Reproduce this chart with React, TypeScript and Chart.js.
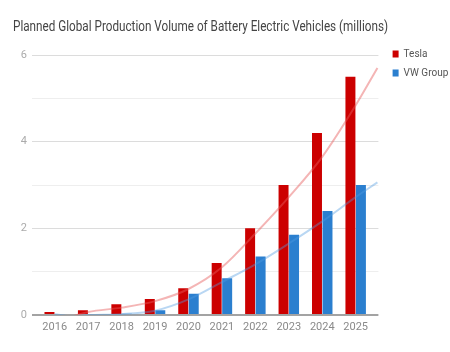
import React, { useEffect, useRef } from 'react';
import { Chart, registerables } from 'chart.js';

Chart.register(...registerables);

const FONT = "'Roboto', sans-serif";

const titleText = 'Planned Global Production Volume of Battery Electric Vehicles (millions)';
const years = ['2016', '2017', '2018', '2019', '2020', '2021', '2022', '2023', '2024', '2025'];
const tesla = [0.07, 0.11, 0.25, 0.37, 0.62, 1.2, 2.0, 3.0, 4.2, 5.5];
const vwGroup = [0, 0, 0.03, 0.11, 0.49, 0.85, 1.35, 1.85, 2.4, 3.0];

// trend lines at category positions (index) and at the right edge
const trendX = [0, 0.5, 1, 2, 3, 4, 5, 6, 7, 8, 9, 9.65];
const teslaTrend = [-0.12, -0.04, 0.07, 0.17, 0.32, 0.6, 1.1, 1.88, 2.72, 3.65, 4.84, 5.7];
const vwTrend = [0.02, -0.03, 0.0, 0.02, 0.1, 0.36, 0.76, 1.17, 1.65, 2.16, 2.72, 3.06];

const yMin = 0;
const yMax = 6;
const yStep = 1;

const RED = '#cc0000';
const BLUE = '#2b7fcf';
const RED_TREND = 'rgba(230, 90, 90, 0.45)';
const BLUE_TREND = 'rgba(80, 155, 225, 0.4)';

const gridColor = (ctx: any) => {
  const v = ctx.tick ? ctx.tick.value : 1;
  if (v === 0) return '#a3a3a3';
  return v % 2 === 0 ? '#dcdcdc' : '#eeeeee';
};
const gridWidth = (ctx: any) => (ctx.tick && ctx.tick.value === 0 ? 2 : 1);

// draws the title condensed into the space the title block reserves
const condensedTitle = {
  id: 'condensedTitle',
  afterDraw(chart: any) {
    const tb = chart.titleBlock;
    if (!tb) return;
    const ctx = chart.ctx;
    const opts = tb.options;
    const size = 14;
    const lh = size * 1.2;
    ctx.save();
    ctx.font = `normal ${size}px ${FONT}`;
    ctx.fillStyle = '#444444';
    ctx.textAlign = 'left';
    ctx.textBaseline = 'middle';
    const y = tb.top + (opts.padding.top ?? 0) + lh / 2;
    ctx.fillText(titleText, tb.left, y, 375);
    ctx.restore();
  },
};

const trendDataset = (label: string, values: number[], color: string) =>
  ({
    type: 'line',
    label,
    parsing: false,
    data: trendX.map((x, i) => ({ x, y: values[i] })),
    xAxisID: 'x',
    yAxisID: 'y',
    borderColor: color,
    borderWidth: 2,
    pointRadius: 0,
    cubicInterpolationMode: 'monotone',
    clip: { left: 8, right: 8, top: 0, bottom: 0 },
    order: 0,
  } as any);

export default function App() {
  const ref = useRef<HTMLCanvasElement | null>(null);

  useEffect(() => {
    if (!ref.current) return;
    const chart = new Chart(ref.current, {
      type: 'bar',
      data: {
        labels: years,
        datasets: [
          {
            label: 'Tesla',
            data: tesla,
            backgroundColor: RED,
            borderWidth: 0,
            categoryPercentage: 0.628,
            barPercentage: 0.95,
            xAxisID: 'x',
            order: 1,
          },
          {
            label: 'VW Group',
            data: vwGroup,
            backgroundColor: BLUE,
            borderWidth: 0,
            categoryPercentage: 0.628,
            barPercentage: 0.95,
            xAxisID: 'x',
            order: 1,
          },
          trendDataset('Tesla trend', teslaTrend, RED_TREND),
          trendDataset('VW trend', vwTrend, BLUE_TREND),
        ],
      },
      options: {
        responsive: false,
        animation: false,
        devicePixelRatio: 1,
        events: [],
        layout: { padding: { left: 13, right: 0, top: 0, bottom: 11.8 } },
        plugins: {
          tooltip: { enabled: false },
          title: {
            display: true,
            text: ' ',
            align: 'start',
            color: '#444444',
            font: { family: FONT, size: 14, weight: 'normal', lineHeight: 1.2 },
            padding: { top: 18.6, bottom: 19.6 },
          },
          legend: {
            display: true,
            position: 'right',
            align: 'start',
            fullSize: true,
            maxWidth: 66.4,
            title: {
              display: true,
              text: '',
              font: { size: 10, lineHeight: 1 },
              padding: { top: 30, bottom: 0 },
            },
            labels: {
              boxWidth: 6,
              boxHeight: 7,
              padding: 9,
              color: '#555555',
              font: { family: FONT, size: 10 },
              filter: (item: any) => item.datasetIndex < 2,
            },
          },
        },
        scales: {
          x: {
            type: 'category',
            offset: true,
            bounds: 'ticks',
            grid: { display: false, drawTicks: false },
            border: { display: false },
            ticks: {
              color: '#8a8a8a',
              font: { family: FONT, size: 11 },
              padding: 6,
              maxRotation: 0,
            },
          },
          y: {
            type: 'linear',
            position: 'left',
            min: yMin,
            max: yMax,
            grid: {
              color: gridColor,
              lineWidth: gridWidth,
              drawTicks: true,
              tickLength: 6,
            },
            border: { display: false },
            ticks: {
              stepSize: yStep,
              padding: 5,
              color: '#ababab',
              font: { family: FONT, size: 11 },
              callback: (v: any) => (Number(v) % 2 === 0 ? String(v) : ''),
            },
            afterFit: (scale: any) => {
              scale.width = 25;
            },
          },
          y2: {
            type: 'linear',
            position: 'right',
            min: yMin,
            max: yMax,
            grid: {
              color: gridColor,
              lineWidth: gridWidth,
              drawOnChartArea: false,
              drawTicks: true,
              tickLength: 6,
            },
            border: { display: false },
            ticks: { stepSize: yStep, display: false },
            afterFit: (scale: any) => {
              scale.width = 11.2;
            },
          },
        },
      } as any,
      plugins: [condensedTitle],
    });
    return () => chart.destroy();
  }, []);

  return (
    <div style={{ position: 'fixed', left: 0, top: 0, width: 450, height: 352, background: '#ffffff' }}>
      <canvas ref={ref} width={450} height={352} style={{ width: 450, height: 352, display: 'block' }} />
    </div>
  );
}
